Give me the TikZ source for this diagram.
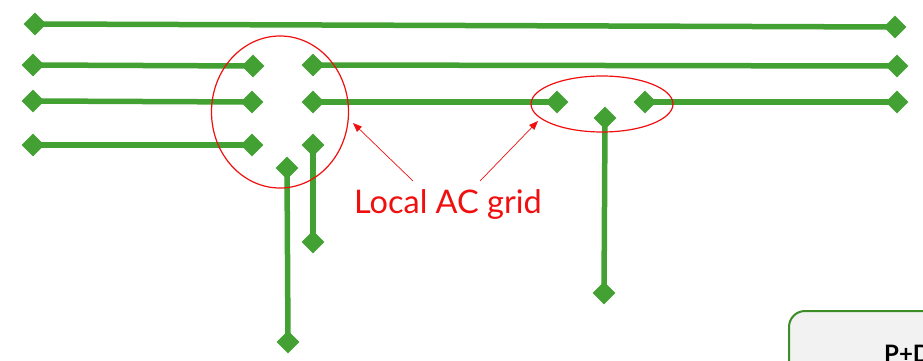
\documentclass[tikz,border=0pt]{standalone}
\usepackage{fontspec}
\setmainfont{Lato}
\usetikzlibrary{shapes.geometric,arrows.meta}
\definecolor{gr}{RGB}{67,160,50}
\definecolor{grd}{RGB}{60,140,40}
\definecolor{rd}{RGB}{240,15,15}
\begin{document}
\begin{tikzpicture}[x=1pt,y=-1pt,
  dm/.style={diamond,fill=gr,inner sep=0pt,minimum width=23pt,minimum height=23pt},
  ln/.style={draw=gr,line width=5.5pt},
  ring/.style={draw=rd,line width=1.2pt},
  pointer/.style={draw=rd,line width=0.7pt,-{Triangle[length=9pt,width=7pt]}}]
\useasboundingbox (0,0) rectangle (923,361);
\begin{scope}
\clip (0,0) rectangle (923,361);
\node[draw=grd,line width=2pt,fill=black!5,rounded corners=16pt,minimum width=200pt,minimum height=100pt,anchor=north west] (box) at (788,310) {};
\node[font=\bfseries\fontsize{24}{28}\selectfont,anchor=base west,inner sep=0pt] (pd) at (884,362) {P+D};
\end{scope}
\node[dm] (a1) at (35,24) {};
\node[dm] (a2) at (895,27) {};
\node[dm] (b1) at (33,65) {};
\node[dm] (b2) at (253,66) {};
\node[dm] (b3) at (313,65) {};
\node[dm] (b4) at (897,66) {};
\node[dm] (c1) at (33,101) {};
\node[dm] (c2) at (252,102) {};
\node[dm] (c3) at (313,102) {};
\node[dm] (c4) at (557,102) {};
\node[dm] (c5) at (645,102) {};
\node[dm] (c6) at (897,102) {};
\node[dm] (d1) at (33,145) {};
\node[dm] (d2) at (252,145) {};
\node[dm] (e1) at (313,145) {};
\node[dm] (e2) at (313,242) {};
\node[dm] (f1) at (287,168) {};
\node[dm] (f2) at (288,342) {};
\node[dm] (g1) at (605,118) {};
\node[dm] (g2) at (604,293) {};
\draw[ln] (a1.center) -- (a2.center);
\draw[ln] (b1.center) -- (b2.center);
\draw[ln] (b3.center) -- (b4.center);
\draw[ln] (c1.center) -- (c2.center);
\draw[ln] (c3.center) -- (c4.center);
\draw[ln] (c5.center) -- (c6.center);
\draw[ln] (d1.center) -- (d2.center);
\draw[ln] (e1.center) -- (e2.center);
\draw[ln] (f1.center) -- (f2.center);
\draw[ln] (g1.center) -- (g2.center);
\node[ring,ellipse,minimum width=137pt,minimum height=152pt,inner sep=0pt] (r1) at (280,112) {};
\node[ring,ellipse,minimum width=142pt,minimum height=56pt,inner sep=0pt] (r2) at (602,104) {};
\node[text=rd,font=\fontsize{32.5}{38}\selectfont] (lab) at (448,204) {Local AC grid};
\coordinate (p1) at (413,181);
\coordinate (p2) at (480,181);
\draw[pointer] (p1) -- (353,123);
\draw[pointer] (p2) -- (538,121);
\end{tikzpicture}
\end{document}
